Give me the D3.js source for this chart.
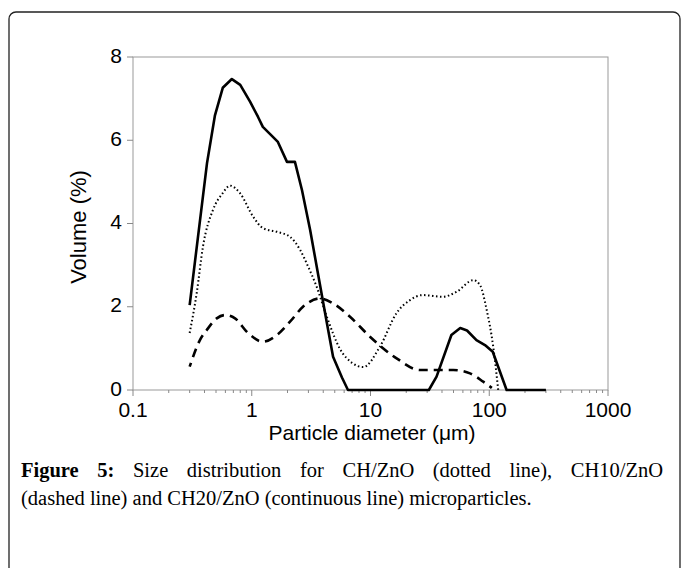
<!DOCTYPE html>
<html>
<head>
<meta charset="utf-8">
<script src="https://cdn.jsdelivr.net/npm/d3@7"></script>
<style>
  body { margin: 0; background: #fff; }
</style>
</head>
<body>
<div id="canvas"></div>
<script>
"use strict"

// canvas size
let svgWidth = 683;
let svgHeight = 568;

// plot box (pixels)
let plotLeft = 133;
let plotRight = 608;
let plotTop = 57;
let plotBottom = 390;

// DATA

// CH/ZnO (dotted line)
let dottedX = [0.3, 0.344, 0.388, 0.472, 0.57, 0.656, 0.796, 1.03, 1.24, 1.63, 2.1, 2.55, 3.0, 3.5, 4.3, 5.5, 7.0, 8.7, 12, 16.6, 21.5, 27.4, 40.8, 53.2, 73.4, 83.6, 95.2, 108, 119];
let dottedY = [1.37, 2.33, 3.44, 4.33, 4.73, 4.91, 4.73, 4.16, 3.89, 3.8, 3.68, 3.37, 2.95, 2.5, 1.75, 1.0, 0.65, 0.55, 1.04, 1.85, 2.16, 2.28, 2.24, 2.36, 2.64, 2.52, 1.92, 1.04, 0];

// CH10/ZnO (dashed line)
let dashedX = [0.3, 0.366, 0.418, 0.507, 0.595, 0.723, 0.93, 1.24, 1.63, 2.1, 2.7, 3.76, 4.84, 6.72, 9.9, 16.6, 26.1, 49.8, 68.9, 89, 105];
let dashedY = [0.56, 1.2, 1.44, 1.72, 1.8, 1.72, 1.37, 1.16, 1.32, 1.64, 2.0, 2.2, 2.08, 1.76, 1.28, 0.76, 0.48, 0.48, 0.4, 0.2, 0.05];

// CH20/ZnO (continuous line)
let solidX = [0.3, 0.42, 0.49, 0.57, 0.68, 0.8, 0.97, 1.13, 1.24, 1.66, 1.98, 2.31, 2.65, 3.1, 3.61, 4.3, 4.84, 5.75, 6.46, 31, 36, 48, 57, 65, 78, 92, 107, 140, 300];
let solidY = [2.04, 5.45, 6.6, 7.26, 7.47, 7.33, 6.92, 6.56, 6.32, 5.96, 5.48, 5.48, 4.8, 3.85, 2.8, 1.6, 0.8, 0.3, 0, 0, 0.32, 1.32, 1.49, 1.43, 1.2, 1.08, 0.92, 0, 0];

// tick labels
let xTickValues = [0.1, 1, 10, 100, 1000];
let xTickLabels = ["0.1", "1", "10", "100", "1000"];
let yTickValues = [0, 2, 4, 6, 8];

let xTitle = "Particle diameter (\u03bcm)";
let yTitle = "Volume (%)";

let captionBold = "Figure 5:";
let captionLine1 = "Size distribution for CH/ZnO (dotted line), CH10/ZnO";
let captionLine2 = "(dashed line) and CH20/ZnO (continuous line) microparticles.";


// CANVAS SETUP
let svg = d3.select("#canvas")
    .append("svg")
    .attr("width", svgWidth)
    .attr("height", svgHeight);

// outer frame with rounded corners (runs off the bottom)
svg.append("rect")
    .attr("x", 9)
    .attr("y", 12)
    .attr("width", 671)
    .attr("height", 600)
    .attr("rx", 7)
    .attr("fill", "none")
    .attr("stroke", "#222")
    .attr("stroke-width", 1.3);


// SCALES
let xScale = d3.scaleLog()
    .domain([0.1, 1000])
    .range([plotLeft, plotRight]);

let yScale = d3.scaleLinear()
    .domain([0, 8])
    .range([plotBottom, plotTop]);


// plot box
svg.append("rect")
    .attr("x", plotLeft)
    .attr("y", plotTop)
    .attr("width", plotRight - plotLeft)
    .attr("height", plotBottom - plotTop)
    .attr("fill", "none")
    .attr("stroke", "#999")
    .attr("stroke-width", 1);

// x ticks - major and minor, hanging below the axis
let minorTicks = [];
for (let d = 0.1; d < 1000; d *= 10) {
    for (let k = 2; k <= 9; k++) {
        minorTicks.push(d * k);
    }
}

svg.selectAll(".xminor")
    .data(minorTicks)
    .join("line")
    .attr("class", "xminor")
    .attr("x1", function (v) { return xScale(v) })
    .attr("x2", function (v) { return xScale(v) })
    .attr("y1", plotBottom)
    .attr("y2", plotBottom + 3)
    .attr("stroke", "#888");

svg.selectAll(".xmajor")
    .data(xTickValues)
    .join("line")
    .attr("class", "xmajor")
    .attr("x1", function (v) { return xScale(v) })
    .attr("x2", function (v) { return xScale(v) })
    .attr("y1", plotBottom)
    .attr("y2", plotBottom + 6)
    .attr("stroke", "#888");

svg.selectAll(".ytick")
    .data(yTickValues)
    .join("line")
    .attr("class", "ytick")
    .attr("x1", plotLeft - 6)
    .attr("x2", plotLeft)
    .attr("y1", function (v) { return yScale(v) })
    .attr("y2", function (v) { return yScale(v) })
    .attr("stroke", "#888");

// tick labels
for (let i = 0; i < xTickValues.length; i++) {
    svg.append("text")
        .attr("x", xScale(xTickValues[i]))
        .attr("y", 417)
        .style("text-anchor", "middle")
        .style("font-family", "Liberation Sans, Arial, sans-serif")
        .style("font-size", "21px")
        .text(xTickLabels[i]);
}

for (let i = 0; i < yTickValues.length; i++) {
    svg.append("text")
        .attr("x", 122)
        .attr("y", yScale(yTickValues[i]) - 2)
        .style("text-anchor", "end")
        .style("dominant-baseline", "central")
        .style("font-family", "Liberation Sans, Arial, sans-serif")
        .style("font-size", "21px")
        .text(yTickValues[i]);
}

// axis titles
svg.append("text")
    .attr("x", 372)
    .attr("y", 440)
    .style("text-anchor", "middle")
    .style("font-family", "Liberation Sans, Arial, sans-serif")
    .style("font-size", "21px")
    .text(xTitle);

svg.append("text")
    .attr("transform", "translate(86," + 227 + ") rotate(-90)")
    .style("text-anchor", "middle")
    .style("font-family", "Liberation Sans, Arial, sans-serif")
    .style("font-size", "22px")
    .text(yTitle);


// LINES
let line = d3.line()
    .x(function (p) { return xScale(p[0]) })
    .y(function (p) { return yScale(p[1]) });

let smoothLine = d3.line()
    .x(function (p) { return xScale(p[0]) })
    .y(function (p) { return yScale(p[1]) })
    .curve(d3.curveMonotoneX);

let series = [
    { x: dottedX, y: dottedY, gen: smoothLine, width: 2, dash: "1.5 2.5", offset: 0 },
    { x: dashedX, y: dashedY, gen: smoothLine, width: 2.6, dash: "9 6", offset: 5 },
    { x: solidX, y: solidY, gen: line, width: 2.6, dash: null, offset: 0 }
];

svg.selectAll(".series")
    .data(series)
    .join("path")
    .attr("class", "series")
    .attr("fill", "none")
    .attr("stroke", "#000")
    .attr("stroke-width", function (s) { return s.width })
    .attr("stroke-dasharray", function (s) { return s.dash })
    .attr("stroke-dashoffset", function (s) { return s.offset })
    .attr("stroke-linejoin", "round")
    .attr("d", function (s) {
        let pts = s.x.map(function (v, i) { return [v, s.y[i]] });
        return s.gen(pts);
    });


// CAPTION - first line justified word by word, second line left aligned
let capFont = "Liberation Serif, 'Times New Roman', serif";
let capSize = "20.5px";
let capLeft = 21;
let capRight = 663;

let words1 = captionBold.split(" ").concat(captionLine1.split(" "));
let wordNodes = [];
for (let i = 0; i < words1.length; i++) {
    let t = svg.append("text")
        .attr("y", 477)
        .style("font-family", capFont)
        .style("font-size", capSize)
        .style("font-weight", i < 2 ? "bold" : "normal")
        .text(words1[i]);
    wordNodes.push(t);
}
let totalW = d3.sum(wordNodes, function (t) { return t.node().getComputedTextLength() });
let gap = (capRight - capLeft - totalW) / (wordNodes.length - 1);
let cx = capLeft;
for (let i = 0; i < wordNodes.length; i++) {
    wordNodes[i].attr("x", cx);
    cx += wordNodes[i].node().getComputedTextLength() + gap;
}

svg.append("text")
    .attr("x", capLeft)
    .attr("y", 505)
    .style("font-family", capFont)
    .style("font-size", capSize)
    .text(captionLine2);
</script>
</body>
</html>
